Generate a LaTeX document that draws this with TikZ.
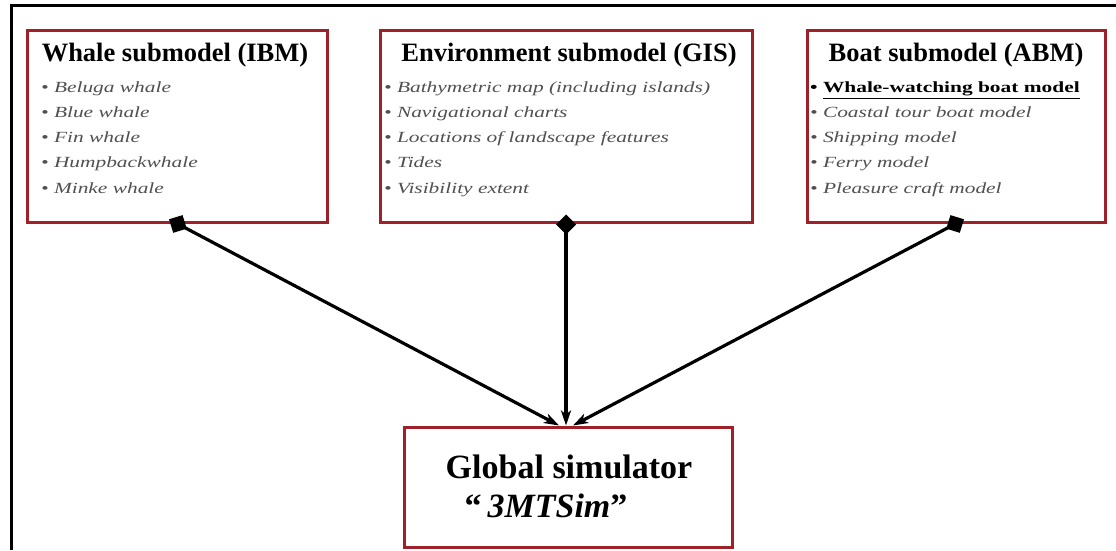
\documentclass[tikz,border=0pt]{standalone}
\usepackage{fontspec}
\setmainfont{Liberation Serif}
\newfontfamily\itemfont[FakeStretch=1.38]{Liberation Serif}
\usetikzlibrary{arrows.meta}
\definecolor{boxred}{RGB}{158,32,40}
\definecolor{itemgray}{RGB}{80,80,80}
\tikzset{
  modelbox/.style={draw=boxred, line width=3pt, fill=white, inner sep=0pt},
  titletext/.style={anchor=base, inner sep=0pt,
    font=\fontsize{26.5}{30}\selectfont\bfseries},
  itemtext/.style={anchor=base west, inner sep=0pt, text=itemgray,
    font=\itemfont\fontsize{15.5}{18}\selectfont\itshape},
  keyitem/.style={anchor=base west, inner sep=0pt, text=black,
    font=\itemfont\fontsize{15.5}{18}\selectfont\bfseries},
  link/.style={line width=3.2pt, shorten <=-9pt,
    {Diamond[length=20pt,width=20pt]}-{Stealth[length=15pt,width=10pt,inset=4pt]}}
}
\begin{document}
\begin{tikzpicture}[x=1pt,y=1pt]
\useasboundingbox (0,0) rectangle (1116,550);
% frame lines
\draw[line width=3pt] (11,0) -- (11,544) -- (1116,544);

% submodel boxes
\node[modelbox, minimum width=300pt, minimum height=191pt] (whale) at (177,423.5) {};
\node[modelbox, minimum width=372pt, minimum height=191pt] (env) at (566,423.5) {};
\node[modelbox, minimum width=298pt, minimum height=191pt] (boat) at (956,423.5) {};
\node[modelbox, minimum width=328pt, minimum height=120pt] (global) at (568,63) {};

% whale submodel
\node[titletext] (whaleT) at (175,488) {Whale submodel (IBM)};
\node[itemtext] (w1) at (41,457) {• Beluga whale};
\node[itemtext] (w2) at (41,432) {• Blue whale};
\node[itemtext] (w3) at (41,407) {• Fin whale};
\node[itemtext] (w4) at (41,382) {• Humpbackwhale};
\node[itemtext] (w5) at (41,357) {• Minke whale};

% environment submodel
\node[titletext] (envT) at (569,488) {Environment submodel (GIS)};
\node[itemtext] (e1) at (384,457) {• Bathymetric map (including islands)};
\node[itemtext] (e2) at (384,432) {• Navigational charts};
\node[itemtext] (e3) at (384,407) {• Locations of landscape features};
\node[itemtext] (e4) at (384,382) {• Tides};
\node[itemtext] (e5) at (384,357) {• Visibility extent};

% boat submodel
\node[titletext] (boatT) at (956,488) {Boat submodel (ABM)};
\node[keyitem] (b1) at (810,457) {• \underline{Whale-watching boat model}};
\node[itemtext] (b2) at (810,432) {• Coastal tour boat model};
\node[itemtext] (b3) at (810,407) {• Shipping model};
\node[itemtext] (b4) at (810,382) {• Ferry model};
\node[itemtext] (b5) at (810,357) {• Pleasure craft model};

% global simulator
\node[anchor=base, inner sep=0pt, font=\fontsize{34}{38}\selectfont\bfseries] (gT1) at (569,72) {Global simulator};
\node[anchor=base, inner sep=0pt, font=\fontsize{34}{38}\selectfont\bfseries] (gT2) at (546,33) {“\hspace{6pt}\textit{3MTSim}”};

% connectors
\draw[link] (whale.south) -- ([xshift=-9pt]global.north);
\draw[link] (env.south) -- (env.south |- global.north);
\draw[link] (boat.south) -- ([xshift=5pt]global.north);
\end{tikzpicture}
\end{document}
